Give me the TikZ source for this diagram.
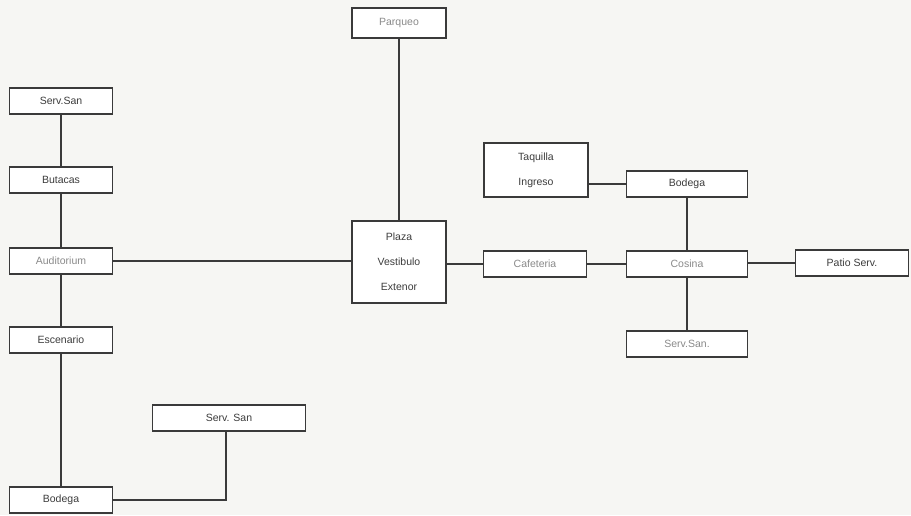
\documentclass[tikz,border=0pt]{standalone}
\usepackage{fontspec}
\setmainfont{Liberation Sans}
\definecolor{bg}{HTML}{F6F6F3}
\definecolor{ln}{HTML}{3A3A3A}
\definecolor{dtx}{HTML}{3C3C3C}
\definecolor{ltx}{HTML}{8A8A8A}
\begin{document}
\begin{tikzpicture}[x=1pt,y=-1pt,
  box/.style={draw=ln,line width=1.7pt,fill=white,font=\fontsize{10.5}{12}\selectfont,text=dtx,inner sep=1pt,align=center},
  pale/.style={text=ltx},
  link/.style={draw=ln,line width=1.7pt}]
\fill[bg] (0,0) rectangle (911,515);
\useasboundingbox (0,0) rectangle (911,515);
% left column
\node[box,minimum width=103pt,minimum height=26pt] (ss1) at (61,101) {Serv.San};
\node[box,minimum width=103pt,minimum height=26pt] (but) at (61,180) {Butacas};
\node[box,pale,minimum width=103pt,minimum height=26pt] (aud) at (61,261) {Auditorium};
\node[box,minimum width=103pt,minimum height=26pt] (esc) at (61,340) {Escenario};
\node[box,minimum width=103pt,minimum height=26pt] (bodL) at (61,500) {Bodega};
\node[box,minimum width=153pt,minimum height=26pt] (ssb) at (229,418) {Serv. San};
% centre
\node[box,pale,minimum width=94pt,minimum height=30pt] (par) at (399,23) {Parqueo};
\node[box,minimum width=94pt,minimum height=82pt] (pla) at (399,262) {Plaza\\[13pt]Vestibulo\\[13pt]Extenor};
% right
\node[box,pale,minimum width=103pt,minimum height=26pt] (caf) at (535,264) {Cafeteria};
\node[box,minimum width=104pt,minimum height=54pt] (taq) at (536,170) {Taquilla\\[13pt]Ingreso};
\node[box,minimum width=121pt,minimum height=26pt] (bodR) at (687,184) {Bodega};
\node[box,pale,minimum width=121pt,minimum height=26pt] (cos) at (687,264) {Cosina};
\node[box,pale,minimum width=121pt,minimum height=26pt] (ssR) at (687,344) {Serv.San.};
\node[box,minimum width=113pt,minimum height=26pt] (pat) at (852,263) {Patio Serv.};
% connectors
\draw[link] (ss1) -- (but);
\draw[link] (but) -- (aud);
\draw[link] (aud) -- (esc);
\draw[link] (esc) -- (bodL);
\draw[link] (ssb.south -| 226,0) |- (bodL.east);
\draw[link] (aud.east) -- (aud.east -| pla.west);
\draw[link] (par) -- (pla);
\draw[link] (pla.east |- caf) -- (caf.west);
\draw[link] (caf) -- (cos);
\draw[link] (taq.east |- bodR) -- (bodR.west);
\draw[link] (bodR) -- (cos);
\draw[link] (cos) -- (ssR);
\draw[link] (cos.east |- pat) -- (pat.west);
\end{tikzpicture}
\end{document}
